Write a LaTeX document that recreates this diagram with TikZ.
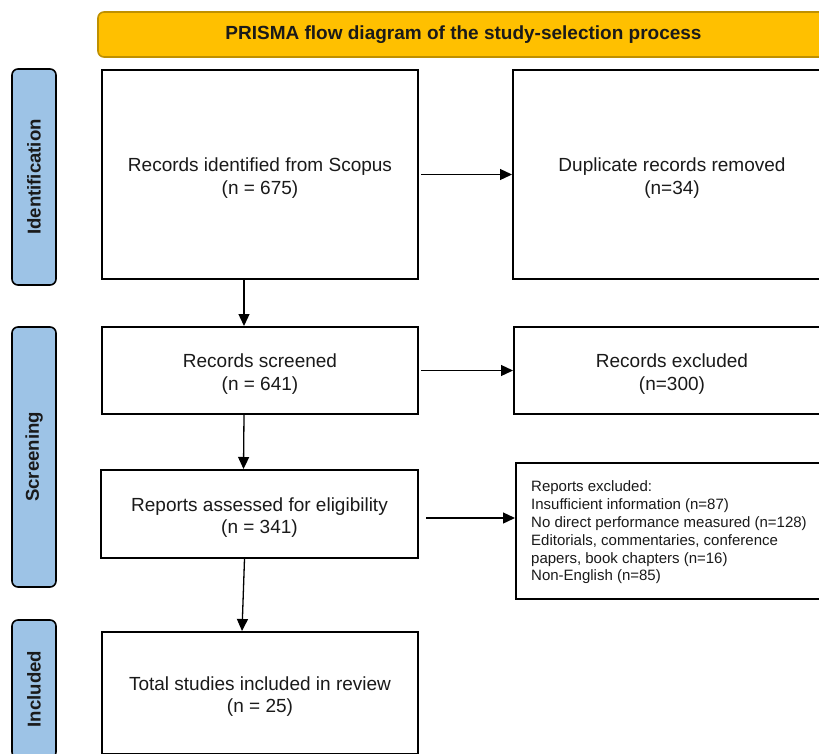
\documentclass[tikz,border=0pt]{standalone}
\usepackage{fontspec}
\setmainfont{Liberation Sans}
\usetikzlibrary{arrows.meta}
\definecolor{barfill}{HTML}{FFC000}
\definecolor{bardraw}{HTML}{BF9000}
\definecolor{sidefill}{HTML}{9DC3E6}
\definecolor{txt}{HTML}{1A1A1A}
\tikzset{
  mainbox/.style={draw=black, line width=2pt, fill=white, minimum width=#1, inner sep=0pt},
  boxtext/.style={align=center, inner sep=0pt, text=txt, font=\fontsize{19}{22.5}\selectfont},
  sidebox/.style={draw=black, line width=1.6pt, fill=sidefill, rounded corners=6pt, rotate=90,
    minimum height=44pt, minimum width=#1, inner sep=0pt, text=txt, font=\fontsize{18.6}{22}\selectfont\bfseries},
  titlebar/.style={draw=bardraw, line width=1.6pt, fill=barfill, rounded corners=6pt, minimum width=731pt,
    minimum height=45pt, inner sep=0pt, text=txt, font=\fontsize{19}{22}\selectfont\bfseries},
  arr/.style={-{Triangle[length=12pt,width=11pt]}, line width=1.3pt, black},
  smalltext/.style={align=left, anchor=west, inner sep=0pt, text=txt, font=\fontsize{15}{17.8}\selectfont}
}
\begin{document}
\begin{tikzpicture}[x=1pt,y=-1pt]
\useasboundingbox (0,0) rectangle (819,753);
\node[titlebar] (title) at (463.5,34.5) {\raisebox{-1.5pt}{PRISMA flow diagram of the study-selection process}};
\node[sidebox=216pt] (sideI) at (34,177) {Identification};
\node[sidebox=260pt] (sideS) at (34,457) {Screening};
\node[sidebox=138pt] (sideN) at (34,689) {Included};
\node[mainbox=316pt, minimum height=209pt] (b1) at (260,174.5) {};
\node[boxtext] (b1t) at ([yshift=-3.5pt]b1.center) {Records identified from Scopus\\(n = 675)};
\node[mainbox=318pt, minimum height=209pt] (dup) at (672,174.5) {};
\node[boxtext] (dupt) at ([yshift=-3.5pt]dup.center) {Duplicate records removed\\(n=34)};
\node[mainbox=316pt, minimum height=87pt] (scr) at (260,370.5) {};
\node[boxtext] (scrt) at ([yshift=-3.5pt]scr.center) {Records screened\\(n = 641)};
\node[mainbox=316pt, minimum height=87pt] (exc) at (672,370.5) {};
\node[boxtext] (exct) at ([yshift=-3.5pt]exc.center) {Records excluded\\(n=300)};
\node[mainbox=317pt, minimum height=88pt] (rep) at (259.5,514) {};
\node[boxtext] (rept) at ([yshift=-3.5pt]rep.center) {Reports assessed for eligibility\\(n = 341)};
\node[mainbox=314pt, minimum height=136pt] (repx) at (673,531) {};
\node[smalltext] (repxt) at ([xshift=16pt,yshift=-1.5pt]repx.west) {Reports excluded:\\Insufficient information (n=87)\\No direct performance measured (n=128)\\Editorials, commentaries, conference\\papers, book chapters (n=16)\\Non-English (n=85)};
\node[mainbox=316pt, minimum height=122pt] (tot) at (260,693) {};
\node[boxtext] (tott) at ([yshift=-3.5pt]tot.center) {Total studies included in review\\(n = 25)};
\draw[arr] ([xshift=-16pt]b1.south) -- ([xshift=-16pt]scr.north);
\draw[arr] ([xshift=-16pt]scr.south) -- ([xshift=-16pt]rep.north);
\draw[arr] ([xshift=-15pt]rep.south) -- ([xshift=-18pt]tot.north);
\draw[arr, shorten <=2pt] (b1.east) -- (dup.west);
\draw[arr, shorten <=2pt] (scr.east) -- (exc.west);
\draw[arr, shorten <=7pt] ([yshift=-4pt]rep.east) coordinate (p) -- (p -| repx.west);
\end{tikzpicture}
\end{document}
